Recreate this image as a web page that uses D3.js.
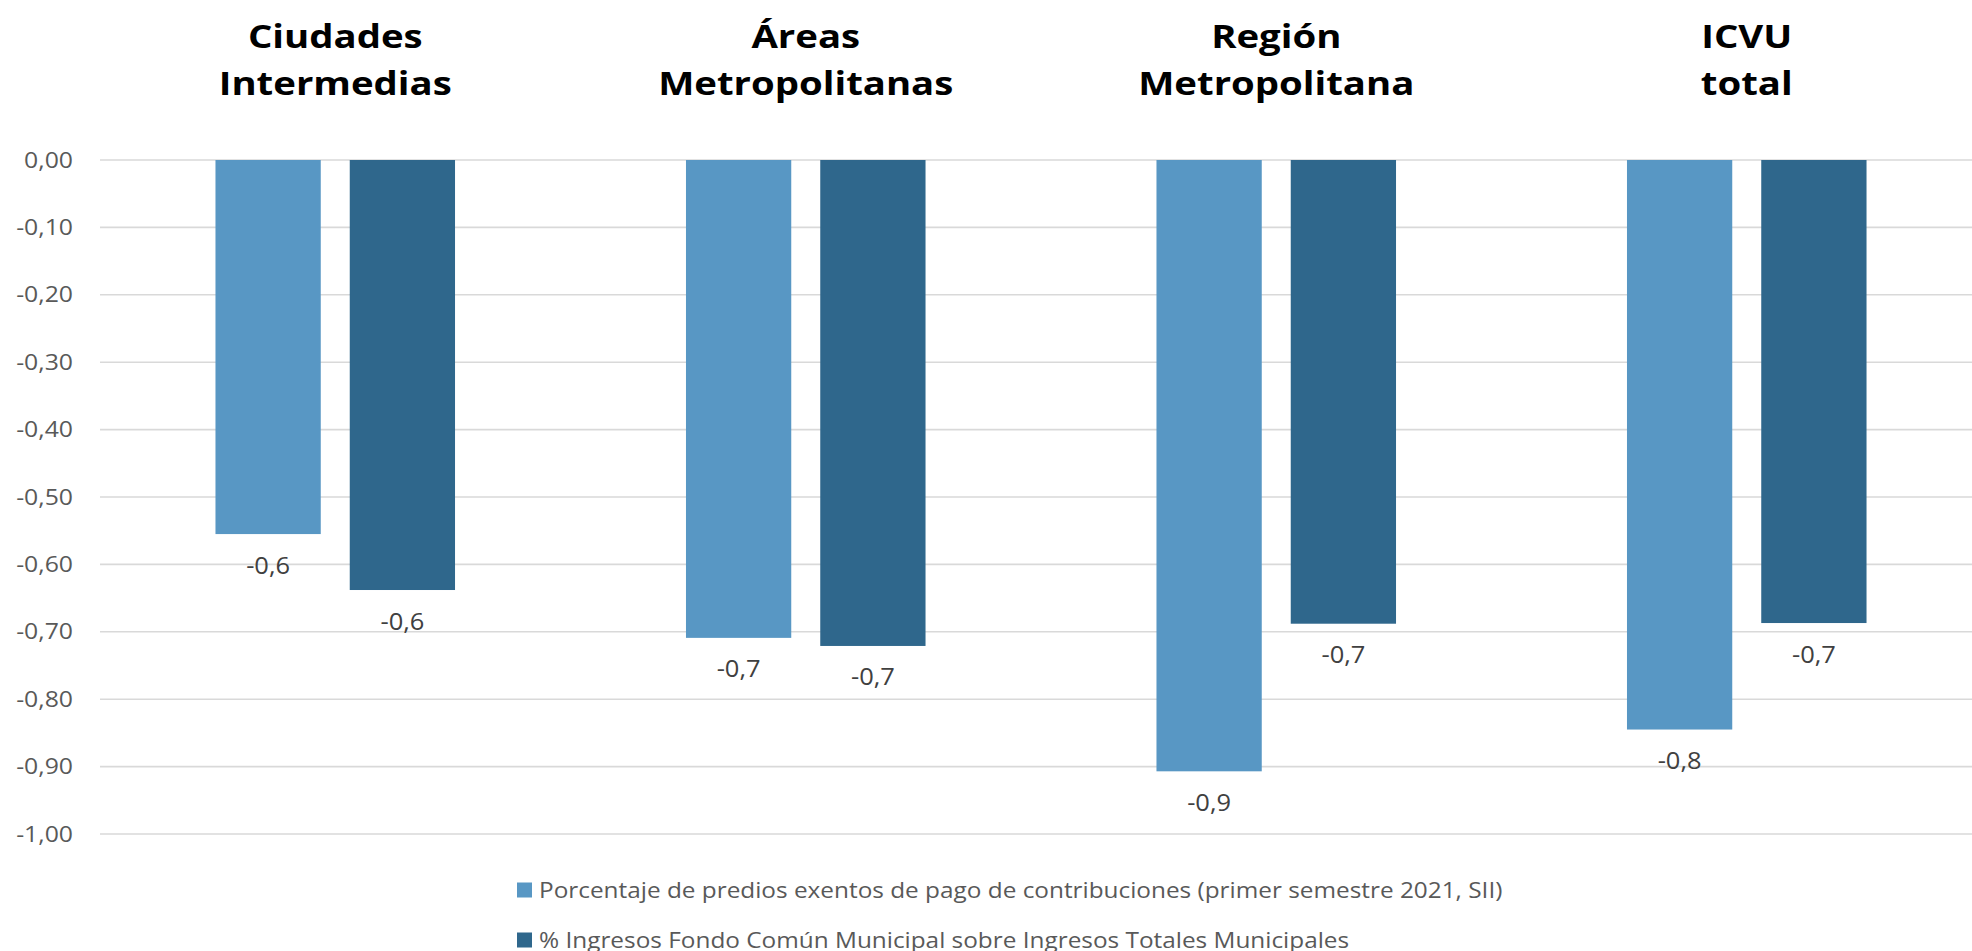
<!DOCTYPE html>
<html>
<head>
<meta charset="utf-8">
<script src="https://cdn.jsdelivr.net/npm/d3@7"></script>
<style>
  html, body { margin: 0; padding: 0; background: #ffffff; }
  svg { display: block; }
  text { font-family: "Open Sans", "Noto Sans", sans-serif; }
</style>
</head>
<body>
<svg id="chart" width="1972" height="951"></svg>
<script>
// ---- data ----
const categories = ["Ciudades Intermedias", "Áreas Metropolitanas", "Región Metropolitana", "ICVU total"];
const titleLines = [["Ciudades", "Intermedias"], ["Áreas", "Metropolitanas"], ["Región", "Metropolitana"], ["ICVU", "total"]];
const seriesNames = [
  "Porcentaje de predios exentos de pago de contribuciones (primer semestre 2021, SII)",
  "% Ingresos Fondo Común Municipal sobre Ingresos Totales Municipales"
];
const seriesPredios = [-0.555, -0.709, -0.907, -0.845];
const seriesFCM = [-0.638, -0.721, -0.688, -0.687];
const yTicks = [0, -0.1, -0.2, -0.3, -0.4, -0.5, -0.6, -0.7, -0.8, -0.9, -1.0];
const seriesColors = ["#5897C4", "#2F678C"];

// ---- layout ----
const W = 1972, H = 951;
const plotLeft = 100, plotRight = 1982, plotTop = 160, plotBottom = 834;
const SX = 1.18; // horizontal text stretch

const svg = d3.select("#chart");
const loc = d3.formatLocale({decimal: ",", thousands: ".", grouping: [3], currency: ["$", ""], minus: "-"});
const fmtTick = loc.format(".2f");
const fmtLabel = loc.format(".1f");

const x0 = d3.scaleBand().domain(categories).range([plotLeft, plotRight]).paddingInner(0).paddingOuter(0);
const x1 = d3.scaleBand().domain([0, 1]).range([0, x0.bandwidth()]).paddingInner(0.216).paddingOuter(0.86);
const y = d3.scaleLinear().domain([-1, 0]).range([plotBottom, plotTop]);

function stretchText(sel, sx) {
  sel.each(function() {
    const t = d3.select(this);
    const tx = +t.attr("data-x"), ty = +t.attr("data-y");
    t.attr("transform", `translate(${tx},${ty}) scale(${sx},1)`);
  });
}

// gridlines
svg.append("g").selectAll("line").data(yTicks).join("line")
  .attr("x1", plotLeft).attr("x2", plotRight)
  .attr("y1", d => y(d)).attr("y2", d => y(d))
  .attr("stroke", "#d9d9d9").attr("stroke-width", 1.6);

// y tick labels
svg.append("g").selectAll("text").data(yTicks).join("text")
  .attr("data-x", 73).attr("data-y", d => y(d) + 7.5)
  .attr("text-anchor", "end")
  .attr("font-size", 21)
  .attr("fill", "#595959")
  .text(d => fmtTick(d))
  .call(stretchText, SX);

// bars
const seriesData = [seriesPredios, seriesFCM];
seriesData.forEach((vals, si) => {
  const g = svg.append("g");
  g.selectAll("rect").data(vals).join("rect")
    .attr("x", (d, i) => x0(categories[i]) + x1(si))
    .attr("width", x1.bandwidth())
    .attr("y", y(0))
    .attr("height", d => y(d) - y(0))
    .attr("fill", seriesColors[si]);
  g.selectAll("text").data(vals).join("text")
    .attr("data-x", (d, i) => x0(categories[i]) + x1(si) + x1.bandwidth() / 2)
    .attr("data-y", d => y(d) + 39.5)
    .attr("text-anchor", "middle")
    .attr("font-size", 24.5)
    .attr("fill", "#404040")
    .text(d => fmtLabel(d))
    .call(stretchText, 1.04);
});

// category titles
const tg = svg.append("g");
titleLines.forEach((lines, i) => {
  lines.forEach((ln, j) => {
    tg.append("text")
      .attr("data-x", x0(categories[i]) + x0.bandwidth() / 2)
      .attr("data-y", 48 + j * 47)
      .attr("text-anchor", "middle")
      .attr("font-size", 32.5)
      .attr("font-weight", "bold")
      .attr("fill", "#000000")
      .text(ln)
      .call(stretchText, SX);
  });
});

// legend
const lg = svg.append("g");
seriesNames.forEach((name, i) => {
  const yy = 882.5 + i * 50;
  lg.append("rect").attr("x", 517).attr("y", yy).attr("width", 15).attr("height", 15).attr("fill", seriesColors[i]);
  lg.append("text")
    .attr("data-x", 539).attr("data-y", yy + 15)
    .attr("font-size", 21)
    .attr("fill", "#595959")
    .text(name)
    .call(stretchText, 1.16);
});
</script>
</body>
</html>
